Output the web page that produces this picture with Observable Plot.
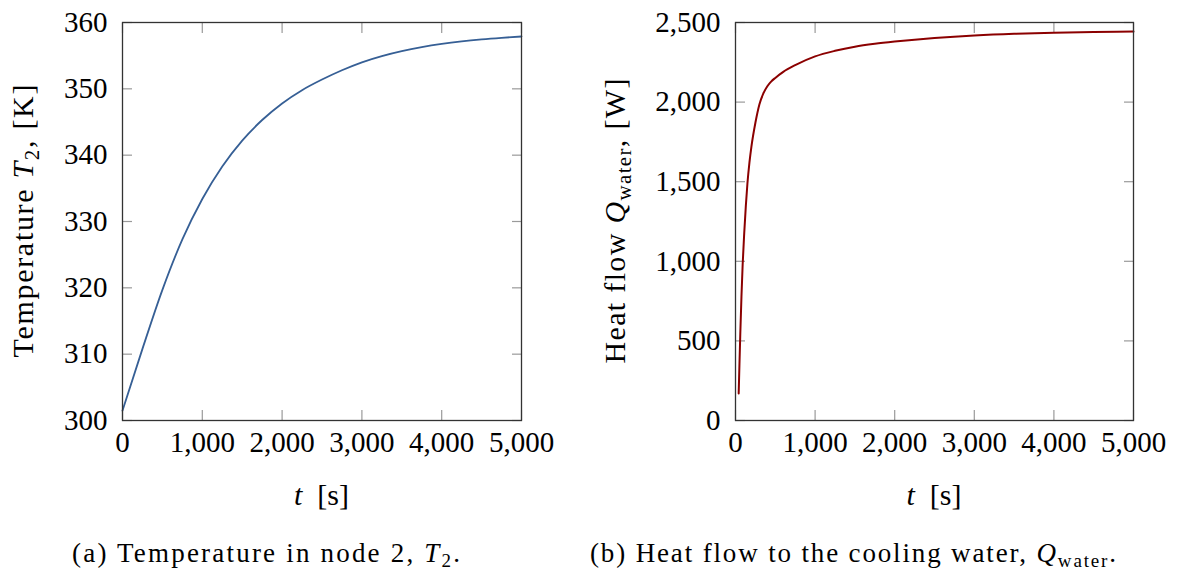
<!DOCTYPE html>
<html>
<head>
<meta charset="utf-8">
<script src="https://cdn.jsdelivr.net/npm/d3@7"></script>
<script src="https://cdn.jsdelivr.net/npm/@observablehq/plot@0.6"></script>
<style>
  html, body { margin: 0; padding: 0; background: white; }
  #wrap { position: relative; width: 1184px; height: 575px; background: white; overflow: hidden; }
  .panel { position: absolute; top: 0; width: 592px; height: 575px; }
</style>
</head>
<body>
<div id="wrap">
  <div class="panel" id="left" style="left:0px"></div>
  <div class="panel" id="right" style="left:592px"></div>
</div>
<script>
// ---- Data ----
const xTicks = [0, 1000, 2000, 3000, 4000, 5000];

// (a) Temperature in node 2
const tempTime = [0, 250, 500, 750, 1000, 1250, 1500, 1750, 2000, 2250, 2500, 2750, 3000, 3250, 3500, 3750, 4000, 4250, 4500, 4750, 5000];
const tempK    = [301.5, 310.8, 319.7, 327.3, 333.4, 338.3, 342.2, 345.3, 347.8, 349.8, 351.4, 352.8, 354.0, 354.94, 355.69, 356.29, 356.77, 357.15, 357.45, 357.69, 357.89];
const tempTicks = [300, 310, 320, 330, 340, 350, 360];

// (b) Heat flow to the cooling water
const heatTime = [40, 50, 60, 75, 90, 110, 130, 150, 175, 200, 250, 300, 350, 400, 450, 500, 600, 750, 1000, 1250, 1500, 1750, 2000, 2250, 2500, 3000, 3500, 4000, 4500, 5000];
const heatW    = [170, 360, 540, 780, 980, 1180, 1350, 1490, 1620, 1720, 1870, 1985, 2055, 2100, 2130, 2152, 2190, 2232, 2287, 2322, 2348, 2366, 2380, 2392, 2402, 2418, 2429, 2436, 2440, 2443];
const heatTicks = [0, 500, 1000, 1500, 2000, 2500];

const fmt = d3.format(",");
const FONT = "'Liberation Serif', 'Times New Roman', serif";

function makePlot({xs, ys, yDomain, yTicks, color, lineWidth, marginLeft, marginRight}) {
  const data = xs.map((x, i) => ({x, y: ys[i]}));
  return Plot.plot({
    width: 592,
    height: 575,
    marginTop: 22,
    marginBottom: 155,
    marginLeft,
    marginRight,
    style: {fontFamily: FONT, fontSize: "29px", background: "white", color: "black", overflow: "visible"},
    x: {domain: [0, 5000]},
    y: {domain: yDomain},
    marks: [
      // inward ticks on all four sides
      Plot.axisX(xTicks, {anchor: "bottom", tickSize: -10, fill: "none", stroke: "#9a9a9a", strokeWidth: 1.2, label: null}),
      Plot.axisX(xTicks, {anchor: "top", tickSize: -10, fill: "none", stroke: "#9a9a9a", strokeWidth: 1.2, label: null}),
      Plot.axisY(yTicks, {anchor: "left", tickSize: -10, fill: "none", stroke: "#9a9a9a", strokeWidth: 1.2, label: null}),
      Plot.axisY(yTicks, {anchor: "right", tickSize: -10, fill: "none", stroke: "#9a9a9a", strokeWidth: 1.2, label: null}),
      // tick labels
      Plot.axisX(xTicks, {anchor: "bottom", tickSize: 0, tickPadding: 11, tickFormat: fmt, label: null, fontSize: 29}),
      Plot.axisY(yTicks, {anchor: "left", tickSize: 0, tickPadding: 15, tickFormat: fmt, label: null, fontSize: 29}),
      Plot.line(data, {x: "x", y: "y", stroke: color, strokeWidth: lineWidth, curve: "monotone-x"}),
      Plot.frame({stroke: "#333", strokeWidth: 1.3})
    ]
  });
}

function addText(svg, parts, {x, y, size, anchor = "middle", rotate = 0, length = null}) {
  const t = d3.select(svg).append("text")
    .attr("transform", `translate(${x},${y}) rotate(${rotate})`)
    .attr("text-anchor", anchor)
    .attr("font-family", FONT)
    .attr("font-size", size)
    .attr("fill", "black");
  if (length) t.attr("textLength", length).attr("lengthAdjust", "spacing");
  let shift = 0;
  for (const p of parts) {
    const s = t.append("tspan").text(p.t);
    const target = p.sub ? Math.round(size * 0.2) : 0;
    if (target !== shift) { s.attr("dy", target - shift); shift = target; }
    if (p.italic) s.attr("font-style", "italic");
    if (p.sub) s.attr("font-size", Math.round(size * 0.7));
  }
}

// Left panel
const left = makePlot({xs: tempTime, ys: tempK, yDomain: [300, 360], yTicks: tempTicks, color: "#365f95", lineWidth: 1.8, marginLeft: 122, marginRight: 71});
document.getElementById("left").appendChild(left);
addText(left, [{t: "Temperature "}, {t: "T", italic: true}, {t: "2", sub: true}, {t: ", [K]"}], {x: 33, y: 221, size: 30, rotate: -90, length: 273});
addText(left, [{t: "t", italic: true}, {t: "  [s]"}], {x: 321.5, y: 505, size: 30});
addText(left, [{t: "(a) Temperature in node 2, "}, {t: "T", italic: true}, {t: "2", sub: true}, {t: "."}], {x: 266, y: 562, size: 27, length: 388});

// Right panel
const right = makePlot({xs: heatTime, ys: heatW, yDomain: [0, 2500], yTicks: heatTicks, color: "#8b0000", lineWidth: 2, marginLeft: 143, marginRight: 51});
document.getElementById("right").appendChild(right);
addText(right, [{t: "Heat flow "}, {t: "Q", italic: true}, {t: "water", sub: true}, {t: ", [W]"}], {x: 33, y: 221, size: 30, rotate: -90, length: 285});
addText(right, [{t: "t", italic: true}, {t: "  [s]"}], {x: 342, y: 505, size: 30});
addText(right, [{t: "(b) Heat flow to the cooling water, "}, {t: "Q", italic: true}, {t: "water", sub: true}, {t: "."}], {x: 261, y: 562, size: 27, length: 526});
</script>
</body>
</html>
